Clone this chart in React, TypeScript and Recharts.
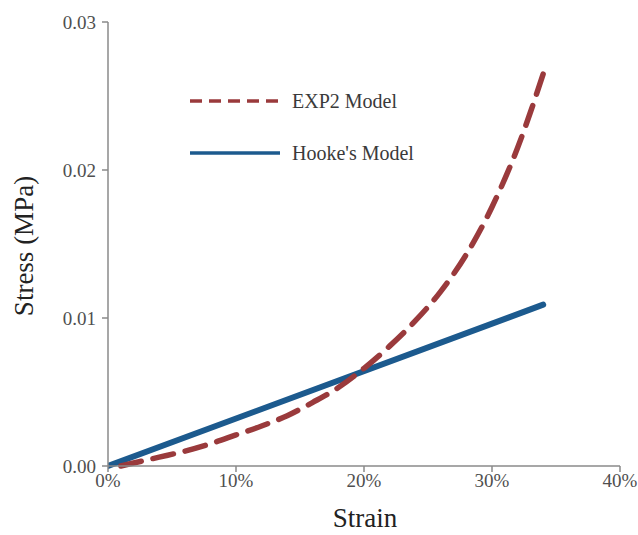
import React from 'react';
import { LineChart, Line, XAxis, YAxis, Label } from 'recharts';

const exp2Strain = [0.01, 0.02, 0.04, 0.06, 0.08, 0.10, 0.12, 0.14, 0.16, 0.18, 0.20, 0.22, 0.24, 0.26, 0.28, 0.30, 0.31, 0.32, 0.33, 0.34];
const exp2Stress = [0, 0.0002, 0.0006, 0.0010, 0.0015, 0.0021, 0.0027, 0.0034, 0.0043, 0.0053, 0.0066, 0.0081, 0.0098, 0.0118, 0.0143, 0.0175, 0.0194, 0.0215, 0.0239, 0.0265];
const hookeStrain = [0, 0.34];
const hookeStress = [0, 0.0109];
const xTicks = [0, 0.1, 0.2, 0.3, 0.4];
const yTicks = [0, 0.01, 0.02, 0.03];

const exp2Data = exp2Strain.map((x, i) => ({ x, y: exp2Stress[i] }));
const hookeData = hookeStrain.map((x, i) => ({ x, y: hookeStress[i] }));

const RED = '#9A3A3C';
const BLUE = '#1C5A8E';
const FONT = '"Liberation Serif", "DejaVu Serif", serif';

const LegendBox = () => (
  <div style={{ position: 'absolute', left: 188, top: 86, fontFamily: FONT, fontSize: 20, color: '#3a3a3a' }}>
    <div style={{ display: 'flex', alignItems: 'center', height: 30 }}>
      <svg width={96} height={10} style={{ marginRight: 8 }}>
        <line x1={2} y1={5} x2={94} y2={5} stroke={RED} strokeWidth={3.5} strokeDasharray="12 7" />
      </svg>
      <span>EXP2 Model</span>
    </div>
    <div style={{ display: 'flex', alignItems: 'center', height: 30, marginTop: 22 }}>
      <svg width={96} height={10} style={{ marginRight: 8 }}>
        <line x1={2} y1={5} x2={92} y2={5} stroke={BLUE} strokeWidth={3.5} />
      </svg>
      <span>Hooke's Model</span>
    </div>
  </div>
);

export default function App() {
  return (
    <div style={{ position: 'absolute', left: 0, top: 0, width: 638, height: 535, background: '#fff' }}>
      <LineChart width={638} height={535} margin={{ top: 22, right: 18, bottom: 0, left: 0 }}>
        <XAxis
          type="number"
          dataKey="x"
          domain={[0, 0.4]}
          ticks={xTicks}
          tickFormatter={(v: number) => `${Math.round(v * 100)}%`}
          height={69}
          tickSize={6}
          stroke="#8a8a8a"
          strokeWidth={1.5}
          tick={{ fill: '#4f4f4f', fontSize: 19, fontFamily: FONT }}
          tickMargin={2}
          allowDataOverflow
        >
          <Label
            content={() => (
              <text x={365} y={527} textAnchor="middle" fill="#222" fontSize={27} fontFamily={FONT}>
                Strain
              </text>
            )}
          />
        </XAxis>
        <YAxis
          type="number"
          domain={[0, 0.03]}
          ticks={yTicks}
          tickFormatter={(v: number) => v.toFixed(2)}
          width={108}
          tickSize={6}
          stroke="#8a8a8a"
          strokeWidth={1.5}
          tick={{ fill: '#4f4f4f', fontSize: 19, fontFamily: FONT }}
          tickMargin={6}
        >
          <Label
            content={() => (
              <text x={33} y={246} transform="rotate(-90 33 246)" textAnchor="middle" fill="#222" fontSize={27} fontFamily={FONT}>
                Stress (MPa)
              </text>
            )}
          />
        </YAxis>
        <Line
          data={hookeData}
          dataKey="y"
          type="linear"
          stroke={BLUE}
          strokeWidth={6}
          dot={false}
          isAnimationActive={false}
          strokeLinecap="round"
        />
        <Line
          data={exp2Data}
          dataKey="y"
          type="monotone"
          stroke={RED}
          strokeWidth={5.5}
          strokeDasharray="21 12"
          strokeLinecap="round"
          dot={false}
          isAnimationActive={false}
        />
      </LineChart>
      <LegendBox />
    </div>
  );
}
